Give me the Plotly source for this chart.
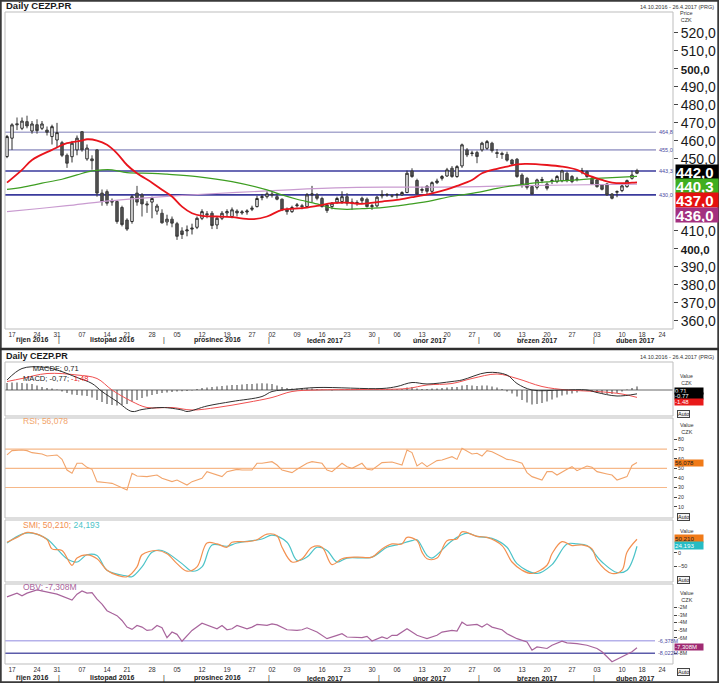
import plotly.graph_objects as go
import pandas as pd

W, H = 719, 683
def px(x): return x / W
def py(y): return 1 - y / H

FONT = "Liberation Sans, Arial, sans-serif"

# ---------------- trading calendar (x axis = trading-day index) ----------------
all_days = pd.bdate_range("2016-10-14", "2017-04-28")
holidays = pd.to_datetime(["2016-10-28", "2016-11-17", "2016-12-26",
                           "2017-04-14", "2017-04-17"])
days = [d for d in all_days if d not in holidays]

# ---------------- price data ----------------
opens = [451.3,461.5,469.5,467.0,470.7,465.5,469.0,467.0,466.0,462.4,460.5,459.0,452.0,451.2,455.0,465.1,450.0,450.0,455.0,431.0,
         431.8,426.0,426.3,423.0,416.0,415.2,431.0,430.0,425.0,426.0,421.0,419.8,415.0,416.5,414.0,410.0,410.0,411.0,412.0,417.0,
         419.5,419.8,413.3,417.0,420.0,418.0,421.0,420.0,420.5,422.0,423.5,428.5,429.0,430.5,429.0,427.6,422.0,420.7,424.0,424.0,
         423.5,430.0,430.0,428.0,424.4,423.5,426.0,426.3,429.0,426.0,425.5,426.8,427.6,423.5,423.9,429.5,430.0,429.5,430.0,430.0,
         431.3,443.3,438.0,432.5,434.8,432.0,436.8,439.2,440.5,444.8,440.2,446.1,455.0,453.0,453.5,455.0,455.9,458.7,453.5,453.0,
         452.5,449.4,449.8,441.0,439.2,434.6,434.2,438.0,436.0,437.5,437.4,437.8,442.0,440.2,438.5,443.0,442.9,439.2,438.3,435.5,
         436.1,430.5,431.5,432.4,434.6,439.2,443.5]
highs = [463.3,469.8,473.0,473.0,474.0,471.0,472.0,471.0,468.0,469.0,470.0,460.0,453.0,460.0,463.0,465.5,458.0,452.0,455.5,433.0,
         433.0,428.0,427.0,424.0,417.0,430.0,435.0,431.0,426.5,429.0,425.0,422.0,419.0,418.0,415.0,412.0,413.0,414.0,418.0,422.0,
         421.0,421.0,418.0,421.0,422.0,423.0,422.0,421.5,422.0,424.0,429.5,430.5,432.0,432.0,431.0,428.0,423.0,424.0,425.5,425.0,
         431.0,435.0,431.0,429.0,425.0,426.0,429.0,432.0,431.0,428.0,427.0,429.0,428.5,425.0,429.5,432.6,431.0,430.5,431.0,432.0,
         443.5,444.8,439.0,434.5,435.5,437.5,439.0,441.0,445.0,446.0,446.5,458.5,456.0,454.5,454.5,459.5,460.5,459.5,455.5,454.0,
         454.0,450.0,450.5,442.0,440.0,435.5,439.0,440.0,437.0,439.0,441.0,444.0,443.0,441.0,440.0,445.0,443.5,440.0,439.0,436.0,
         436.5,431.0,432.5,436.0,438.5,443.5,444.5]
lows = [450.4,455.0,466.0,466.0,467.0,464.0,464.0,466.0,463.0,458.0,456.0,451.0,445.0,448.0,452.0,454.0,449.0,444.0,429.0,424.0,
        424.0,424.0,414.0,412.5,410.0,414.0,424.0,418.0,420.0,417.0,419.0,414.0,413.0,412.0,405.0,405.5,407.0,408.0,411.0,416.0,
        417.0,411.0,411.0,416.0,418.0,417.0,418.0,419.0,419.0,421.0,423.0,427.0,428.0,428.5,427.0,421.0,419.0,420.0,423.0,422.0,
        423.0,426.0,427.0,423.0,420.0,422.0,425.0,425.0,424.0,421.7,424.0,425.5,423.0,421.7,423.0,428.0,429.0,428.5,428.0,429.5,
        431.0,439.5,430.0,431.0,430.5,431.0,436.0,438.0,440.0,439.5,439.5,445.0,451.0,451.5,447.6,454.0,455.0,453.5,450.5,450.0,
        448.5,446.0,439.5,434.0,433.0,430.0,433.0,436.5,432.5,436.0,436.5,437.0,437.0,436.5,437.5,441.5,439.5,435.5,434.0,432.5,
        429.5,427.5,428.7,431.5,434.0,438.5,441.5]
closes = [462.4,468.9,469.0,471.0,468.3,469.4,465.7,469.4,464.8,467.9,464.6,452.0,447.6,458.7,461.5,455.0,456.0,449.0,431.0,426.3,
          425.4,426.5,415.2,413.5,411.0,429.0,426.0,425.0,424.5,428.0,423.8,414.5,416.5,414.3,407.0,408.0,410.5,411.5,417.0,420.7,
          419.0,413.0,417.0,419.8,420.7,421.7,420.0,420.5,421.0,422.6,428.0,429.0,430.6,430.0,427.6,421.7,420.7,423.0,424.4,423.5,
          430.0,430.5,428.1,423.5,421.3,425.4,428.0,429.0,425.4,425.5,425.7,428.1,423.5,424.0,428.7,430.0,430.2,429.4,430.2,431.3,
          442.0,440.2,430.5,433.0,432.0,436.8,437.7,440.2,443.9,440.2,445.7,457.8,452.2,453.2,451.3,458.7,459.6,454.6,453.0,452.5,
          449.3,447.2,440.2,435.5,434.2,430.5,438.3,438.5,433.7,437.9,440.2,443.3,437.9,437.4,438.7,443.3,440.2,436.1,434.6,433.1,
          430.0,428.1,431.8,435.0,437.9,441.0,442.0]
idx = list(range(len(closes)))

# moving averages (index, value)
ma_red_i = [0,3,5,9,12,15,16,18,20,22,24,26,29,31,33,35,37,39,42,45,49,52,55,59,62,65,68,71,75,78,81,85,88,90,93,95,98,100,102,104,108,111,114,116,119,121,123,125,126]
ma_red_v = [436.8,443.9,449.4,455.0,458.7,460.2,460.9,460.2,457.8,453.1,446.6,442.0,436.8,432.8,429.1,423.5,419.8,418.3,418.0,417.6,416.5,418.0,421.7,422.6,423.9,425.4,425.7,425.0,426.3,427.2,428.7,430.9,433.1,435.0,438.3,442.0,444.5,445.7,447.0,447.2,446.6,445.7,443.9,441.1,438.3,436.8,436.5,436.8,437.0]
ma_green_i = [0,3,7,11,14,17,19,21,24,29,32,38,45,52,55,58,62,65,68,71,75,78,81,85,88,91,95,98,101,104,108,111,114,118,121,124,126]
ma_green_v = [433.1,434.2,436.5,438.7,441.1,443.3,443.9,443.9,442.4,442.0,441.5,440.2,437.4,432.8,430.0,427.6,425.0,422.6,422.0,422.4,422.9,423.9,425.0,426.8,428.7,430.0,431.8,433.6,435.0,436.1,437.2,437.9,438.3,439.2,439.6,440.0,440.3]
ma_purple_i = [0,6,12,19,25,32,40,52,60,70,80,91,100,112,126]
ma_purple_v = [420.7,422.3,424.0,426.3,427.8,429.2,430.5,432.2,433.3,434.2,434.3,434.4,435.0,435.5,436.0]

levels = [464.8, 455.0, 443.3, 430.0]
level_labels = ["464,8", "455,0", "443,3", "430,0"]
level_colors = ["#a9a9cf", "#a9a9cf", "#3a3a9c", "#3a3a9c"]

price_ticks = [360, 370, 380, 390, 400, 410, 450, 460, 470, 480, 490, 500, 510, 520]
last_labels = ["442,0", "440,3", "437,0", "436,0"]
last_colors = ["#000000", "#3fae1f", "#e5110f", "#a3307f"]

# MACD (index, value)
macd_i = [0,3,7,10,14,17,19,22,25,27,31,35,36,40,45,51,53,57,62,75,78,81,84,89,91,96,100,102,105,111,116,118,122,126]
macd_v = [2.0,4.3,4.6,4.0,2.5,1.3,-0.3,-2.3,-4.3,-3.9,-3.5,-4.0,-4.3,-3.2,-2.3,-1.3,-0.3,0.1,0.5,0.3,0.7,1.5,1.2,1.7,2.0,3.5,3.0,1.3,0.0,0.0,0.0,-0.5,-1.2,-0.77]
sig_i = [0,3,8,14,18,21,25,28,33,37,42,48,53,57,62,71,80,84,89,93,98,102,107,112,118,123,126]
sig_v = [1.7,2.3,3.3,3.0,2.3,0.0,-2.3,-3.5,-3.5,-4.0,-3.5,-2.5,-1.5,-0.3,0.0,0.1,0.3,1.0,1.3,2.3,3.2,2.3,0.7,0.0,-0.3,-0.8,-1.48]
macdf = [1.4,1.5,1.5,1.4,1.3,1.2,0.9,0.6,0.4,0.3,0.1,-0.3,-0.6,-0.9,-1.0,-1.1,-1.2,-1.5,-2.0,-2.4,
         -2.8,-3.0,-3.1,-3.0,-2.8,-2.3,-2.0,-1.6,-1.3,-1.0,-0.8,-0.6,-0.5,-0.4,-0.3,-0.25,-0.2,-0.1,0.2,0.4,
         0.5,0.6,0.7,0.8,0.9,1.0,1.0,1.1,1.2,1.2,1.3,1.35,1.3,1.2,0.9,0.6,0.4,0.3,0.3,0.3,
         0.4,0.3,0.2,0.1,0.0,-0.1,0.0,0.1,0.2,0.2,0.2,0.1,0.0,0.0,0.1,0.2,0.2,0.2,0.2,0.2,
         0.5,0.6,0.3,0.2,0.2,0.3,0.3,0.4,0.5,0.6,0.6,0.9,1.0,0.9,0.8,0.9,0.9,0.7,0.5,0.2,
         -0.3,-0.7,-1.3,-2.0,-2.5,-2.9,-2.8,-2.6,-2.3,-1.9,-1.5,-1.1,-0.9,-0.7,-0.5,-0.2,-0.2,-0.4,-0.6,-0.7,
         -0.8,-0.8,-0.6,-0.3,0.1,0.4,0.71]

# RSI (index, value)
rsi_i = [0,1,3,4,5,7,8,10,11,12,13,14,15,16,17,18,20,21,23,24,25,26,28,30,31,33,34,36,37,39,40,41,43,44,46,47,49,50,51,53,54,55,57,58,60,61,63,64,65,67,68,69,71,72,73,75,76,77,79,80,81,82,83,84,86,87,89,90,91,93,94,95,96,97,99,100,101,103,104,105,107,108,109,110,112,113,114,116,117,118,120,121,122,124,125,126]
rsi_v = [63.9,68.4,69.1,68.4,66.3,64.9,62.8,63.9,59.3,48.2,44.8,55.2,55.2,51.0,48.9,36.1,35.0,34.3,29.8,27.4,44.8,42.0,41.3,43.0,39.6,36.1,37.8,32.6,36.1,39.6,46.5,44.8,41.3,46.5,48.9,48.2,48.2,55.2,55.2,56.9,53.4,48.2,45.5,48.9,55.2,56.9,55.2,48.2,46.5,55.2,51.7,50.0,55.2,48.9,48.2,55.9,56.2,56.6,53.4,69.1,66.3,52.4,55.9,51.7,58.0,58.7,62.1,59.3,70.8,64.9,65.6,62.8,68.4,67.3,62.1,59.3,58.7,55.2,45.5,41.3,37.8,46.5,46.5,43.0,48.9,51.7,47.5,52.4,51.0,46.5,44.1,43.0,37.8,41.3,53.0,56.078]
rsi_levels = [70, 50, 30]

# SMI (index, value)
smi_i = [0,2,4,6,8,9,11,13,14,16,18,20,22,24,26,27,30,32,34,36,38,40,42,44,45,48,50,52,54,55,57,59,61,63,65,67,70,73,75,77,79,80,82,83,84,86,88,90,91,94,96,99,101,103,105,108,109,111,113,115,117,118,121,123,124,126]
smi_v = [38.8,57.0,75.3,69.2,48.5,14.4,8.4,-46.4,-19.6,-7.5,-22.1,-64.6,-82.9,-89.0,-52.5,-7.5,8.4,-3.8,-40.3,-68.3,-52.5,36.3,32.7,20.5,38.8,41.2,48.5,69.2,63.1,20.5,-34.2,-22.1,20.5,20.5,-43.9,-22.1,-16.0,-16.0,14.4,32.7,32.7,57.0,44.9,2.3,-22.1,-19.6,44.9,50.9,77.7,60.7,57.0,26.6,-34.2,-64.6,-76.8,-46.4,-3.8,41.2,26.6,29.1,14.4,-28.1,-76.8,-64.6,2.3,50.21]
sig2_i = [0,3,5,8,10,12,14,16,18,20,24,25,27,29,31,35,37,39,41,44,46,51,53,56,58,60,62,64,66,68,73,76,78,81,82,84,85,89,92,94,97,100,102,106,109,112,114,116,119,122,124,126]
sig2_v = [36.3,69.2,72.8,50.9,14.4,-22.1,-34.2,-7.5,-9.9,-64.6,-86.5,-89.0,-52.5,2.3,8.4,-40.3,-68.3,-52.5,29.1,24.2,36.3,50.9,65.5,38.8,-28.1,-16.0,20.5,8.4,-34.2,-19.6,-16.0,20.5,29.1,44.9,48.5,-9.9,-19.6,44.9,72.8,60.7,53.4,20.5,-40.3,-76.8,-43.9,32.7,32.7,26.6,-34.2,-73.1,-64.6,24.193]

# OBV in millions (index, value)
obv_i = [0,2,3,4,6,10,13,14,15,16,17,18,19,20,21,22,23,24,25,26,27,28,29,30,31,32,33,34,35,36,37,39,41,42,43,44,45,46,48,49,50,52,53,54,56,58,59,60,62,64,66,67,68,71,72,73,75,76,77,78,80,82,83,84,86,87,89,90,91,92,94,95,96,97,99,100,102,104,105,106,108,109,111,112,114,116,118,119,121,123,125,126]
obv_v = [-0.61,-0.12,-0.48,-0.12,0.3,-0.26,-1.04,-0.26,0.17,-0.12,-0.05,-0.91,-1.56,-2.43,-2.77,-3.08,-3.72,-4.59,-4.89,-4.37,-4.59,-5.02,-4.94,-4.37,-4.68,-5.98,-5.24,-5.54,-6.45,-5.67,-5.02,-4.07,-4.50,-4.81,-4.37,-4.94,-4.81,-4.37,-4.81,-4.59,-4.24,-4.37,-4.16,-4.29,-4.94,-5.02,-4.94,-4.68,-5.24,-6.11,-5.67,-5.46,-5.89,-5.98,-5.80,-6.41,-5.89,-6.11,-5.67,-5.67,-4.81,-5.67,-5.89,-6.11,-5.67,-5.24,-5.02,-5.11,-3.94,-4.37,-4.24,-4.59,-4.16,-4.59,-4.94,-5.46,-6.11,-6.54,-7.62,-7.19,-7.40,-6.97,-6.45,-6.67,-6.76,-6.97,-7.40,-7.84,-9.14,-8.49,-7.84,-7.308]
obv_levels = [-6.378, -8.022]
obv_level_labels = ["-6,378M", "-8,022M"]
obv_level_colors = ["#b5b1ea", "#5c5caa"]

months = ["říjen 2016", "listopad 2016", "prosinec 2016", "leden 2017",
          "únor 2017", "březen 2017", "duben 2017"]

# ---------------- derived axis helpers ----------------
XMIN, XMAX = -0.4, 133.2
tickvals, ticktext = [], []
for i, d in enumerate(days):
    if i > 0 and d.isocalendar()[1] != days[i - 1].isocalendar()[1]:
        tickvals.append(i)
        ticktext.append(d.strftime("%d"))
month_first = {}
for i, d in enumerate(days):
    key = (d.year, d.month)
    if key not in month_first:
        month_first[key] = i
mkeys = list(month_first.keys())[:7]
month_pos, sep_pos = [], []
for k, key in enumerate(mkeys):
    start = month_first[key]
    end = month_first[mkeys[k + 1]] - 1 if k + 1 < len(mkeys) else XMAX
    month_pos.append((max(start, 0) + min(end, XMAX)) / 2)
    if k > 0:
        sep_pos.append(start - 0.7)

fig = go.Figure()

# ---- main chart ----
fig.add_trace(go.Scatter(x=ma_purple_i, y=ma_purple_v, mode="lines", line=dict(color="#c99bd0", width=1.2, shape="spline"), xaxis="x", yaxis="y", hoverinfo="skip"))
fig.add_trace(go.Scatter(x=ma_green_i, y=ma_green_v, mode="lines", line=dict(color="#3e9e22", width=1.2, shape="spline"), xaxis="x", yaxis="y", hoverinfo="skip"))
fig.add_trace(go.Scatter(x=ma_red_i, y=ma_red_v, mode="lines", line=dict(color="#e8141c", width=1.8, shape="spline"), xaxis="x", yaxis="y", hoverinfo="skip"))
fig.add_trace(go.Candlestick(x=idx, open=opens, high=highs, low=lows, close=closes,
                             increasing=dict(line=dict(color="#2a2a2a", width=1), fillcolor="#ffffff"),
                             decreasing=dict(line=dict(color="#3c3c3c", width=1), fillcolor="#555555"),
                             whiskerwidth=0, xaxis="x", yaxis="y", hoverinfo="skip"))

# ---- MACD ----
# histogram as thin vertical stems (one stem per trading day)
stem_x, stem_y = [], []
for i, v in zip(idx, macdf):
    stem_x += [i, i, None]
    stem_y += [0, v, None]
fig.add_trace(go.Scatter(x=stem_x, y=stem_y, mode="lines", line=dict(color="#3a3a3a", width=1),
                         xaxis="x2", yaxis="y2", hoverinfo="skip"))
fig.add_trace(go.Scatter(x=sig_i, y=sig_v, mode="lines", line=dict(color="#f05050", width=1, shape="spline"), xaxis="x2", yaxis="y2", hoverinfo="skip"))
fig.add_trace(go.Scatter(x=macd_i, y=macd_v, mode="lines", line=dict(color="#303030", width=1, shape="spline"), xaxis="x2", yaxis="y2", hoverinfo="skip"))

# ---- RSI ----
fig.add_trace(go.Scatter(x=rsi_i, y=rsi_v, mode="lines", line=dict(color="#f2a56c", width=1.1), xaxis="x2", yaxis="y3", hoverinfo="skip"))

# ---- SMI ----
fig.add_trace(go.Scatter(x=sig2_i, y=sig2_v, mode="lines", line=dict(color="#4cc3c8", width=1.2, shape="spline"), xaxis="x2", yaxis="y4", hoverinfo="skip"))
fig.add_trace(go.Scatter(x=smi_i, y=smi_v, mode="lines", line=dict(color="#f39050", width=1.2, shape="spline"), xaxis="x2", yaxis="y4", hoverinfo="skip"))

# ---- OBV ----
fig.add_trace(go.Scatter(x=obv_i, y=obv_v, mode="lines", line=dict(color="#a8649c", width=1.2), xaxis="x2", yaxis="y5", hoverinfo="skip"))

shapes = []
annotations = []

def frame(y0, y1, x0=5, x1=673, color="#bdbdbd", width=1):
    shapes.append(dict(type="rect", xref="paper", yref="paper", x0=px(x0), x1=px(x1), y0=py(y1), y1=py(y0),
                       line=dict(color=color, width=width), layer="above"))

def text(x, y, s, size=7, color="#222", anchor="left", bold=False, bg=None, yanchor="middle", w=None, h=None):
    a = dict(xref="paper", yref="paper", x=px(x), y=py(y), text=("<b>%s</b>" % s) if bold else s,
             showarrow=False, xanchor=anchor, yanchor=yanchor,
             font=dict(family=FONT, size=size, color=color), borderpad=0)
    if bg:
        a["bgcolor"] = bg
    if w:
        a["width"] = w
        a["align"] = "left"
    if h:
        a["height"] = h
        a["valign"] = "middle"
    annotations.append(a)

# level lines main chart
for v, lab, col in zip(levels, level_labels, level_colors):
    shapes.append(dict(type="line", xref="x", yref="y", x0=XMIN, x1=129.8, y0=v, y1=v,
                       line=dict(color=col, width=1.6), layer="below"))
    annotations.append(dict(xref="x", yref="y", x=130.0, y=v, text=lab, showarrow=False, xanchor="left",
                            yanchor="middle", font=dict(family=FONT, size=5.5, color="#4a4aa0")))
# RSI levels
for v in rsi_levels:
    shapes.append(dict(type="line", xref="x2", yref="y3", x0=XMIN, x1=132, y0=v, y1=v,
                       line=dict(color="#f6b889", width=1.2), layer="below"))
# MACD zero line
shapes.append(dict(type="line", xref="x2", yref="y2", x0=XMIN, x1=XMAX, y0=0, y1=0,
                   line=dict(color="#9a9a9a", width=1.5), layer="below"))
# OBV levels
for v, lab, col in zip(obv_levels, obv_level_labels, obv_level_colors):
    shapes.append(dict(type="line", xref="x2", yref="y5", x0=XMIN, x1=129.6, y0=v, y1=v,
                       line=dict(color=col, width=1.4), layer="below"))
    annotations.append(dict(xref="x2", yref="y5", x=129.8, y=v, text=lab, showarrow=False, xanchor="left",
                            yanchor="middle", font=dict(family=FONT, size=5.5, color="#4a4aa0")))

# frames
frame(12, 329)
frame(362, 416)
frame(418, 518)
frame(520, 582)
frame(584, 664)
# outer border & separator
shapes.append(dict(type="rect", xref="paper", yref="paper", x0=0.001, x1=0.999, y0=0.001, y1=0.999,
                   line=dict(color="#3a3a3a", width=2)))
shapes.append(dict(type="line", xref="paper", yref="paper", x0=0, x1=1, y0=py(349), y1=py(349),
                   line=dict(color="#2e2e2e", width=2.5)))

# headers
text(5, 6, "Daily CEZP.PR", size=9.5, bold=True, color="#1a1a1a")
text(715, 7, "14.10.2016 - 26.4.2017 (PRG)", size=5.5, anchor="right", color="#333")
text(5, 356, "Daily CEZP.PR", size=9, bold=True, color="#1a1a1a")
text(715, 357, "14.10.2016 - 26.4.2017 (PRG)", size=5.5, anchor="right", color="#333")

# right axis captions
text(679, 16.5, "Price<br>CZK", size=5.5, color="#333")
text(679, 379.5, "Value<br>CZK", size=5.2, color="#333")
text(679, 428.5, "Value<br>CZK", size=5.5, color="#333")
text(679, 596, "Value<br>CZK", size=5.5, color="#333")
text(679, 531, "Value", size=5.5, color="#333")

# last-value boxes main
for k, (lab, col) in enumerate(zip(last_labels, last_colors)):
    text(675, 172 + k * 14.2, lab, size=15, bold=True, color="#ffffff", bg=col, w=42, h=14)

# indicator boxes
text(674, 390.8, "0,71", size=6.0, color="#fff", bg="#000", w=28, h=5.6)
text(674, 396.4, "-0,77", size=6.0, color="#fff", bg="#000", w=28, h=5.6)
text(674, 402.0, "-1,48", size=6.0, color="#fff", bg="#e81a1a", w=28, h=5.6)
text(674, 463.5, "56,078", size=6.0, color="#222", bg="#f07a18", w=28, h=5.6)
text(674, 538.5, "50,210", size=6.2, color="#222", bg="#f07a18", w=28, h=6.8)
text(674, 545.4, "24,193", size=6.2, color="#fff", bg="#26bcc4", w=28, h=6.8)
text(674, 646.8, "-7,308M", size=6.0, color="#fff", bg="#a02a72", w=28, h=6)

# Auto boxes
for y0 in (414, 517, 580, 672):
    annotations.append(dict(xref="paper", yref="paper", x=px(677), y=py(y0), text="Auto", showarrow=False,
                            xanchor="left", yanchor="middle", font=dict(family=FONT, size=5.5, color="#222"),
                            bordercolor="#444", borderwidth=1, borderpad=0, bgcolor="#f4f4f4"))

# indicator titles
text(22, 362.5, "MACDF; 0,71<br>MACD; -0,77; <span style='color:#e8141c'>-1,48</span>", size=7.6,
     color="#222", yanchor="top")
text(22, 421, "RSI; 56,078", size=8.5, color="#f2a56c")
text(22, 525, "SMI; 50,210; <span style='color:#4cc3c8'>24,193</span>", size=8.5, color="#f39050")
text(22, 587, "OBV; -7,308M", size=8.5, color="#a8649c")

# month labels and separators (two axes)
for ymon in (340, 678):
    for pos, m in zip(month_pos, months):
        annotations.append(dict(xref="x", yref="paper", x=pos, y=py(ymon), text="<b>%s</b>" % m, showarrow=False,
                                xanchor="center", yanchor="middle", font=dict(family=FONT, size=7, color="#222")))
    for s in sep_pos:
        annotations.append(dict(xref="x", yref="paper", x=s, y=py(ymon), text="|", showarrow=False,
                                xanchor="center", yanchor="middle", font=dict(family=FONT, size=7, color="#222")))

price_ticktext = []
for v in price_ticks:
    s = ("%.1f" % v).replace(".", ",")
    if v in (400, 500):
        s = "<b><span style='font-size:11.5px'>%s</span></b>" % s
    price_ticktext.append(s)

xcommon = dict(range=[XMIN, XMAX], domain=[px(5), px(673)], showgrid=False, zeroline=False,
               tickmode="array", tickvals=tickvals, ticktext=ticktext, ticks="",
               tickfont=dict(family=FONT, size=6.5, color="#333"), showline=False, fixedrange=True)

fig.update_layout(
    width=W, height=H, autosize=False, margin=dict(l=0, r=0, t=0, b=0),
    paper_bgcolor="white", plot_bgcolor="white", showlegend=False, bargap=0,
    font=dict(family=FONT),
    xaxis=dict(**xcommon, anchor="y", rangeslider=dict(visible=False)),
    xaxis2=dict(**xcommon, anchor="y5", matches="x"),
    yaxis=dict(domain=[py(329), py(12)], range=[355.5, 531.6], side="right", anchor="x",
               tickmode="array", tickvals=price_ticks, ticktext=price_ticktext,
               ticks="outside", ticklen=4, tickcolor="#444", showgrid=False, zeroline=False,
               tickfont=dict(family=FONT, size=14, color="#1a1a1a"), fixedrange=True),
    yaxis2=dict(domain=[py(416), py(362)], range=[-5.2, 5.6], side="right", anchor="x2",
                showticklabels=False, ticks="", showgrid=False, zeroline=False, fixedrange=True),
    yaxis3=dict(domain=[py(518), py(418)], range=[-1.8, 102.4], side="right", anchor="x2",
                tickmode="array", tickvals=[10, 20, 30, 40, 50, 60, 70, 80],
                ticks="outside", ticklen=3, tickcolor="#444", showgrid=False, zeroline=False,
                tickfont=dict(family=FONT, size=5.2, color="#333"), fixedrange=True),
    yaxis4=dict(domain=[py(582), py(520)], range=[-108.4, 121.5], side="right", anchor="x2",
                tickmode="array", tickvals=[-50, 0],
                ticks="outside", ticklen=3, tickcolor="#444", showgrid=False, zeroline=False,
                tickfont=dict(family=FONT, size=5.5, color="#333"), fixedrange=True),
    yaxis5=dict(domain=[py(664), py(584)], range=[-9.44, 1.08], side="right", anchor="x2",
                tickmode="array", tickvals=[-2, -3, -4, -5, -6, -8],
                ticktext=["-2M", "-3M", "-4M", "-5M", "-6M", "-8M"],
                ticks="outside", ticklen=3, tickcolor="#444", showgrid=False, zeroline=False,
                tickfont=dict(family=FONT, size=5.2, color="#333"), fixedrange=True),
    shapes=shapes, annotations=annotations,
)

fig.write_html("out.html", config={"displayModeBar": False, "staticPlot": True},
               post_script="document.body.style.margin='0';document.body.style.overflow='hidden';")
